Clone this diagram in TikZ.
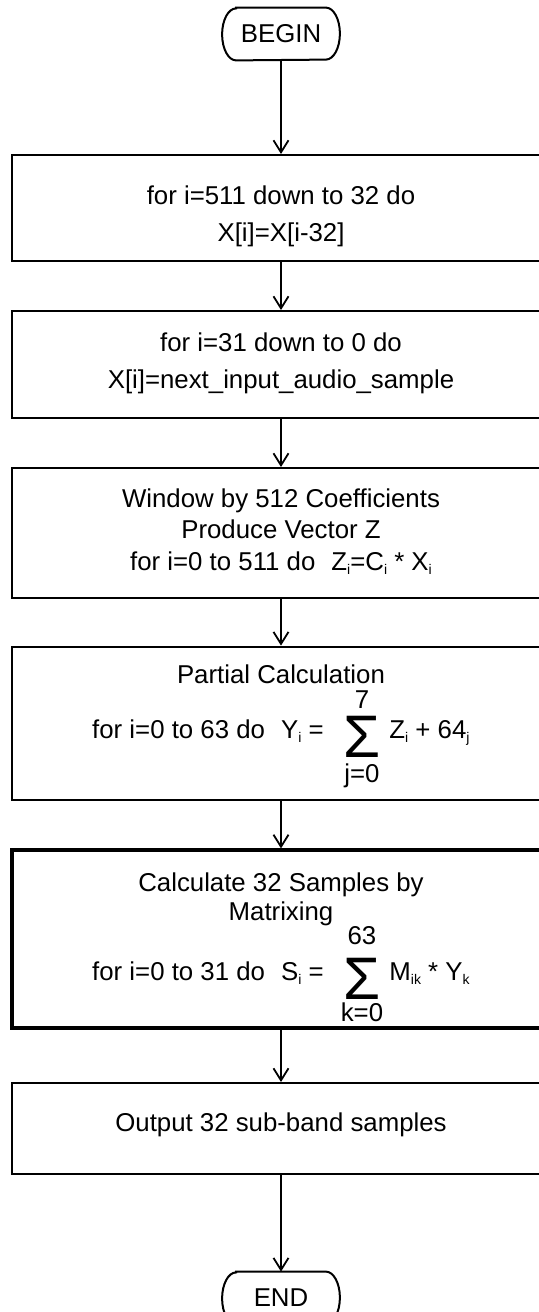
\documentclass[tikz,border=0pt]{standalone}
\usepackage{fontspec}
\setmainfont{Liberation Sans}
\usetikzlibrary{arrows.meta}
\newcommand{\sbs}[1]{\raisebox{-2pt}{\fontsize{7pt}{7pt}\selectfont #1}}
\newcommand{\stadium}[1]{\draw[line width=1pt] ([xshift=7pt]#1.north west) -- ([xshift=-7pt]#1.north east) arc[start angle=90,end angle=-90,x radius=7pt,y radius=13pt] -- ([xshift=7pt]#1.south west) arc[start angle=270,end angle=90,x radius=7pt,y radius=13pt] -- cycle;}
\begin{document}
\begin{tikzpicture}[x=0.5pt,y=-0.5pt,
  txt/.style={font=\fontsize{12.9pt}{15pt}\selectfont, inner sep=0pt},
  stepbox/.style={draw, line width=1pt, minimum width=269pt, inner sep=0pt},
  term/.style={font=\fontsize{12.9pt}{15pt}\selectfont, minimum width=58.5pt, minimum height=26pt, inner sep=0pt},
  sig/.style={font=\fontsize{30pt}{30pt}\selectfont, inner sep=0pt},
  conn/.style={line width=0.75pt, -{Straight Barb[length=6pt,width=7.5pt,line width=0.9pt]}}]
\useasboundingbox (0,0) rectangle (539,1312);
\clip (0,0) rectangle (539,1312);

% terminals
\node[term] (begin) at (281,34) {BEGIN};
\stadium{begin}
\node[term] (end) at (281,1298) {END};
\stadium{end}

% boxes
\node[stepbox, minimum height=53pt] (b1) at (281,208) {};
\node[stepbox, minimum height=53.5pt] (b2) at (281,364.5) {};
\node[stepbox, minimum height=65pt] (b3) at (281,533) {};
\node[stepbox, minimum height=76.5pt, line width=1.4pt] (b4) at (281,723.5) {};
\node[stepbox, minimum height=89pt, line width=1.6pt] (b5) at (281,939) {};
\node[stepbox, minimum height=45.5pt] (b6) at (281,1128.5) {};

% box texts
\node[txt, anchor=base] (t1a) at (281,204) {for i=511 down to 32 do};
\node[txt, anchor=base] (t1b) at (281,241) {X[i]=X[i-32]};
\node[txt, anchor=base] (t2a) at (281,351) {for i=31 down to 0 do};
\node[txt, anchor=base] (t2b) at (281,388) {X[i]=next\_input\_audio\_sample};
\node[txt, anchor=base] (t3a) at (281,507.5) {Window by 512 Coefficients};
\node[txt, anchor=base] (t3b) at (281,538.5) {Produce Vector Z};
\node[txt, anchor=base] (t3c) at (281,570) {for i=0 to 511 do\hspace{8pt}Z\sbs{i}=C\sbs{i} * X\sbs{i}};

\node[txt, anchor=base] (t4a) at (281,683) {Partial Calculation};
\node[sig] (s4) at (362,737) {Σ};
\node[txt, anchor=base] (u4) at (362,708) {7};
\node[txt, anchor=base] (l4) at (362,782) {j=0};
\node[txt, anchor=base east] (p4) at (324,738) {for i=0 to 63 do\hspace{8pt}Y\sbs{i} =};
\node[txt, anchor=base west] (q4) at (389,738) {Z\sbs{i} + 64\sbs{j}};

\node[txt, anchor=base] (t5a) at (281,891) {Calculate 32 Samples by};
\node[txt, anchor=base] (t5b) at (281,920) {Matrixing};
\node[sig] (s5) at (362,979) {Σ};
\node[txt, anchor=base] (u5) at (362,944) {63};
\node[txt, anchor=base] (l5) at (362,1021) {k=0};
\node[txt, anchor=base east] (p5) at (324,980) {for i=0 to 31 do\hspace{8pt}S\sbs{i} =};
\node[txt, anchor=base west] (q5) at (389,980) {M\sbs{ik} * Y\sbs{k}};

\node[txt, anchor=base] (t6) at (281,1131) {Output 32 sub-band samples};

% connectors
\draw[conn] (begin.south) -- (b1.north);
\draw[conn] (b1.south) -- (b2.north);
\draw[conn] (b2.south) -- (b3.north);
\draw[conn] (b3.south) -- (b4.north);
\draw[conn] (b4.south) -- (b5.north);
\draw[conn] (b5.south) -- (b6.north);
\draw[conn] (b6.south) -- (end.north);
\end{tikzpicture}
\end{document}
